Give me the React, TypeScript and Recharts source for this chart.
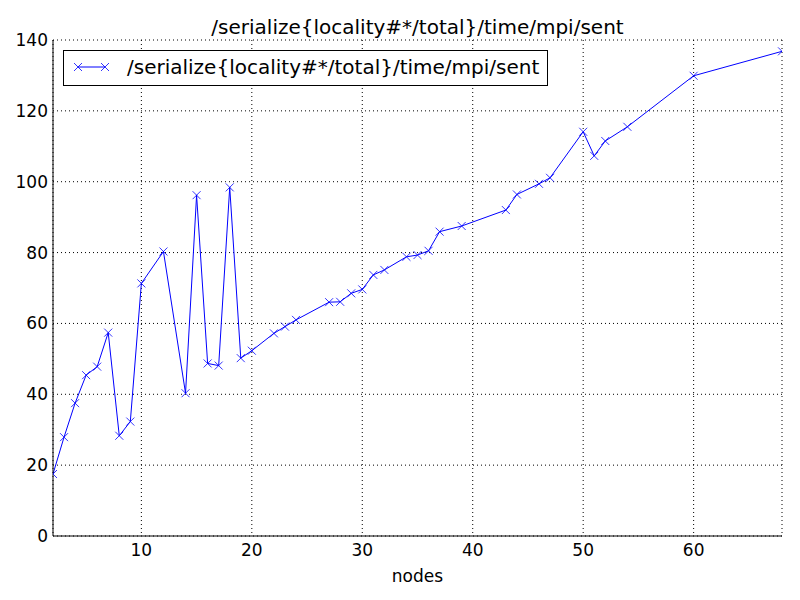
import { LineChart, Line, XAxis, YAxis, CartesianGrid } from "recharts";

const nodes = [
  2, 3, 4, 5, 6, 7, 8, 9, 10, 12, 14, 15, 16, 17, 18, 19, 20, 22, 23, 24, 27,
  28, 29, 30, 31, 32, 34, 35, 36, 37, 39, 43, 44, 46, 47, 50, 51, 52, 54, 60, 68,
];
const sent = [
  17.5, 27.9, 37.5, 45.4, 47.8, 57.4, 28.3, 32.3, 71.3, 80.3, 40.3, 96.2, 48.7,
  48.1, 98.4, 50.2, 52.3, 57.2, 59.1, 61.0, 66.0, 66.1, 68.5, 69.6, 73.7, 75.1,
  78.8, 79.3, 80.5, 85.9, 87.5, 92.0, 96.4, 99.4, 101.1, 114.1, 107.3, 111.5,
  115.5, 129.9, 136.8,
];
const xTicks = [10, 20, 30, 40, 50, 60];
const yTicks = [0, 20, 40, 60, 80, 100, 120, 140];
const seriesName = "/serialize{locality#*/total}/time/mpi/sent";

const data = nodes.map((n, i) => ({ nodes: n, sent: sent[i] }));

const font = "DejaVu Sans";
const blue = "#0000ff";

function XMark(props: any) {
  const { cx, cy } = props;
  if (cx == null || cy == null) return null;
  const s = 4;
  return (
    <path
      d={`M${cx - s},${cy - s}L${cx + s},${cy + s}M${cx - s},${cy + s}L${cx + s},${cy - s}`}
      stroke={blue}
      strokeWidth={0.8}
      fill="none"
    />
  );
}

const noTick = () => <g />;

export default function App() {
  return (
    <div
      style={{
        position: "absolute",
        left: 0,
        top: 0,
        width: 800,
        height: 600,
        background: "#fff",
        fontFamily: font,
      }}
    >
      <div
        style={{
          position: "absolute",
          left: 53,
          width: 729,
          top: 16,
          textAlign: "center",
          fontSize: 20,
          color: "#000",
          lineHeight: "22px",
        }}
      >
        {seriesName}
      </div>
      <LineChart
        width={800}
        height={600}
        data={data}
        margin={{ top: 40, right: 18, left: 0, bottom: 0 }}
      >
        <CartesianGrid stroke="#000" strokeDasharray="1 3" />
        <XAxis
          xAxisId="bIn"
          dataKey="nodes"
          type="number"
          domain={[2, 68]}
          ticks={xTicks}
          orientation="bottom"
          mirror
          height={0}
          tick={noTick}
          tickSize={5}
          axisLine={false}
          tickLine={{ stroke: "#000" }}
        />
        <XAxis
          dataKey="nodes"
          type="number"
          domain={[2, 68]}
          ticks={xTicks}
          allowDataOverflow
          height={64}
          tickLine={false}
          tickSize={0}
          tickMargin={8}
          axisLine={{ stroke: "#000", strokeWidth: 1 }}
          tick={{ fill: "#000", fontSize: 17, fontFamily: font }}
          label={{
            value: "nodes",
            position: "insideBottom",
            offset: 18,
            fill: "#000",
            fontSize: 17,
            fontFamily: font,
          }}
        />
        <XAxis
          xAxisId="top"
          dataKey="nodes"
          type="number"
          domain={[2, 68]}
          ticks={xTicks}
          orientation="top"
          mirror
          height={0}
          tick={noTick}
          tickSize={5}
          axisLine={{ stroke: "#000", strokeWidth: 1 }}
          tickLine={{ stroke: "#000" }}
        />
        <YAxis
          yAxisId="lIn"
          type="number"
          domain={[0, 140]}
          ticks={yTicks}
          mirror
          width={0}
          tick={noTick}
          tickSize={5}
          axisLine={false}
          tickLine={{ stroke: "#000" }}
        />
        <YAxis
          type="number"
          domain={[0, 140]}
          ticks={yTicks}
          allowDataOverflow
          width={53}
          tickLine={false}
          tickSize={0}
          tickMargin={5}
          axisLine={{ stroke: "#000", strokeWidth: 1 }}
          tick={{ fill: "#000", fontSize: 17, fontFamily: font }}
        />
        <YAxis
          yAxisId="right"
          type="number"
          domain={[0, 140]}
          ticks={yTicks}
          orientation="right"
          mirror
          width={0}
          tick={noTick}
          tickSize={5}
          axisLine={{ stroke: "#000", strokeWidth: 1 }}
          tickLine={{ stroke: "#000" }}
        />
        <Line
          type="linear"
          dataKey="sent"
          name={seriesName}
          stroke={blue}
          strokeWidth={1}
          dot={<XMark />}
          activeDot={false}
          isAnimationActive={false}
        />
      </LineChart>
      <div
        style={{
          position: "absolute",
          left: 63,
          top: 50,
          width: 483,
          height: 34,
          border: "1px solid #000",
          background: "#fff",
        }}
      >
        <svg
          width={56}
          height={34}
          style={{ position: "absolute", left: 0, top: 0 }}
        >
          <line x1={14} y1={16} x2={41} y2={16} stroke={blue} strokeWidth={1} />
          <path d="M10,12L18,20M10,20L18,12" stroke={blue} strokeWidth={0.8} />
          <path d="M37,12L45,20M37,20L45,12" stroke={blue} strokeWidth={0.8} />
        </svg>
        <div
          style={{
            position: "absolute",
            left: 63,
            top: 5,
            fontSize: 20,
            lineHeight: "22px",
            color: "#000",
            whiteSpace: "nowrap",
          }}
        >
          {seriesName}
        </div>
      </div>
    </div>
  );
}
